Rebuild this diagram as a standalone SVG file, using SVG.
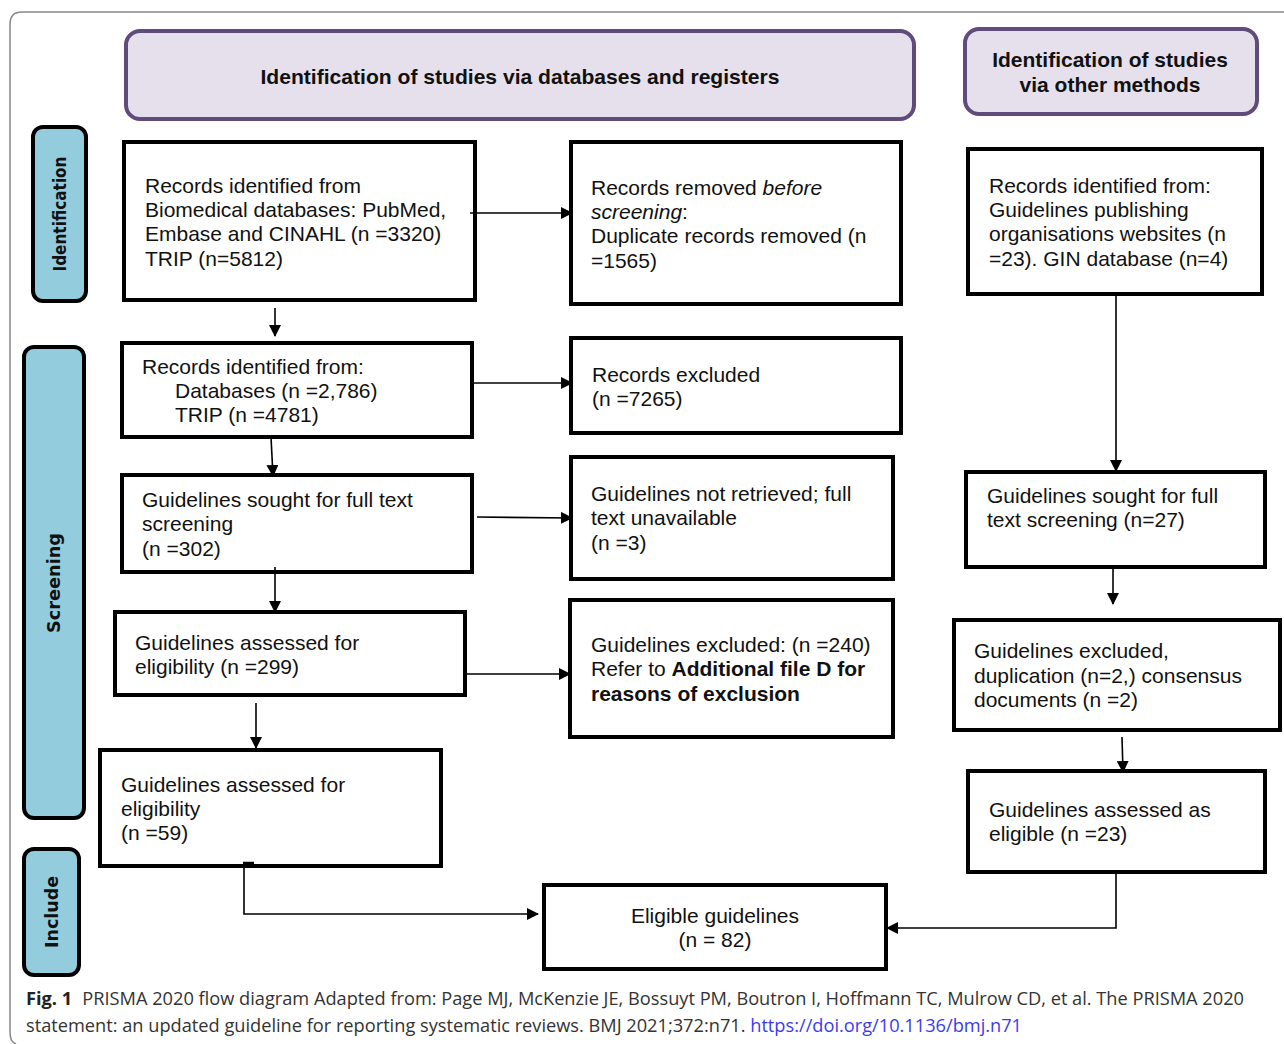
<svg xmlns="http://www.w3.org/2000/svg" width="1284" height="1044" viewBox="0 0 1284 1044">
<defs>
<marker id="ah" markerWidth="12" markerHeight="12" refX="11" refY="6" orient="auto" markerUnits="userSpaceOnUse">
<path d="M0,0 L12,6 L0,12 Z" fill="#000"/>
</marker>
<style>
.box{fill:#fff;stroke:#000;stroke-width:4}
.hdr{fill:#e5e0ec;stroke:#5f4b7c;stroke-width:4}
.side{fill:#93cddd;stroke:#000;stroke-width:4}
.t{font-family:"Liberation Sans",Arial,sans-serif;font-size:21px;fill:#111}
.hb{font-family:"Liberation Sans",Arial,sans-serif;font-size:21px;font-weight:bold;fill:#111}
.sb{font-family:"DejaVu Sans",Verdana,sans-serif;font-size:17px;font-weight:bold;fill:#111}
.c{fill:none;stroke:#000;stroke-width:1.6}
.cap{font-family:"Open Sans","Noto Sans",sans-serif;font-size:18px;fill:#333}
</style>
</defs>
<path d="M1284,12 L22,12 Q10,12 10,24 L10,1032 Q10,1042 16,1044" fill="none" stroke="#888" stroke-width="1.5"/>

<g id="hdr-db"><rect class="hdr" x="126" y="31" width="788" height="88" rx="14"/>
<text class="hb" x="520" y="84" text-anchor="middle" textLength="519" lengthAdjust="spacingAndGlyphs">Identification of studies via databases and registers</text></g>
<g id="hdr-other"><rect class="hdr" x="965" y="29" width="292" height="85" rx="14"/>
<text class="hb" x="1110" y="67" text-anchor="middle">Identification of studies</text>
<text class="hb" x="1110" y="92" text-anchor="middle">via other methods</text></g>

<g id="side-identification"><rect class="side" x="33" y="127" width="53" height="174" rx="10"/>
<text class="sb" transform="translate(66,214) rotate(-90)" text-anchor="middle" textLength="115" lengthAdjust="spacingAndGlyphs">Identification</text></g>
<g id="side-screening"><rect class="side" x="24" y="347" width="60" height="471" rx="10"/>
<text class="sb" transform="translate(60,583) rotate(-90)" text-anchor="middle" textLength="100" lengthAdjust="spacingAndGlyphs">Screening</text></g>
<g id="side-include"><rect class="side" x="24" y="849" width="55" height="126" rx="10"/>
<text class="sb" transform="translate(58,912) rotate(-90)" text-anchor="middle" textLength="72" lengthAdjust="spacingAndGlyphs">Include</text></g>

<g id="n-records-db"><rect class="box" x="124" y="142" width="351" height="158"/>
<text class="t" x="145" y="193">Records identified from</text>
<text class="t" x="145" y="217">Biomedical databases: PubMed,</text>
<text class="t" x="145" y="241">Embase and CINAHL (n =3320)</text>
<text class="t" x="145" y="266">TRIP (n=5812)</text></g>

<g id="n-removed"><rect class="box" x="571" y="142" width="330" height="162"/>
<text class="t" x="591" y="195">Records removed <tspan font-style="italic">before</tspan></text>
<text class="t" x="591" y="219"><tspan font-style="italic">screening</tspan>:</text>
<text class="t" x="591" y="243">Duplicate records removed (n</text>
<text class="t" x="591" y="268">=1565)</text></g>

<g id="n-records-other"><rect class="box" x="968" y="149" width="294" height="145"/>
<text class="t" x="989" y="193">Records identified from:</text>
<text class="t" x="989" y="217">Guidelines publishing</text>
<text class="t" x="989" y="241">organisations websites (n</text>
<text class="t" x="989" y="266">=23). GIN database (n=4)</text></g>

<g id="n-screened"><rect class="box" x="122" y="343" width="350" height="94"/>
<text class="t" x="142" y="374">Records identified from:</text>
<text class="t" x="175" y="398">Databases (n =2,786)</text>
<text class="t" x="175" y="422">TRIP (n =4781)</text></g>

<g id="n-excluded"><rect class="box" x="571" y="338" width="330" height="95"/>
<text class="t" x="592" y="382">Records excluded</text>
<text class="t" x="592" y="406">(n =7265)</text></g>

<g id="n-sought"><rect class="box" x="122" y="475" width="350" height="97"/>
<text class="t" x="142" y="507">Guidelines sought for full text</text>
<text class="t" x="142" y="531">screening</text>
<text class="t" x="142" y="556">(n =302)</text></g>

<g id="n-not-retrieved"><rect class="box" x="571" y="457" width="322" height="122"/>
<text class="t" x="591" y="501">Guidelines not retrieved; full</text>
<text class="t" x="591" y="525">text unavailable</text>
<text class="t" x="591" y="550">(n =3)</text></g>

<g id="n-assessed"><rect class="box" x="115" y="612" width="350" height="83"/>
<text class="t" x="135" y="650">Guidelines assessed for</text>
<text class="t" x="135" y="674">eligibility (n =299)</text></g>

<g id="n-excluded-240"><rect class="box" x="570" y="600" width="323" height="137"/>
<text class="t" x="591" y="652">Guidelines excluded: (n =240)</text>
<text class="t" x="591" y="676">Refer to <tspan font-weight="bold">Additional file D for</tspan></text>
<text class="t" x="591" y="701" font-weight="bold">reasons of exclusion</text></g>

<g id="n-assessed-59"><rect class="box" x="100" y="750" width="341" height="116"/>
<text class="t" x="121" y="792">Guidelines assessed for</text>
<text class="t" x="121" y="816">eligibility</text>
<text class="t" x="121" y="840">(n =59)</text></g>

<g id="n-sought-other"><rect class="box" x="966" y="472" width="299" height="95"/>
<text class="t" x="987" y="503">Guidelines sought for full</text>
<text class="t" x="987" y="527">text screening (n=27)</text></g>

<g id="n-excluded-other"><rect class="box" x="954" y="620" width="326" height="110"/>
<text class="t" x="974" y="658">Guidelines excluded,</text>
<text class="t" x="974" y="683">duplication (n=2,) consensus</text>
<text class="t" x="974" y="707">documents (n =2)</text></g>

<g id="n-eligible-other"><rect class="box" x="968" y="771" width="297" height="101"/>
<text class="t" x="989" y="817">Guidelines assessed as</text>
<text class="t" x="989" y="841">eligible (n =23)</text></g>

<g id="n-eligible"><rect class="box" x="544" y="885" width="342" height="84"/>
<text class="t" x="715" y="923" text-anchor="middle">Eligible guidelines</text>
<text class="t" x="715" y="947" text-anchor="middle">(n = 82)</text></g>

<g id="connectors">
<line class="c" x1="470" y1="213" x2="572" y2="213" marker-end="url(#ah)"/>
<line class="c" x1="275" y1="308" x2="275" y2="336" marker-end="url(#ah)"/>
<line class="c" x1="472" y1="383" x2="572" y2="383" marker-end="url(#ah)"/>
<line class="c" x1="271" y1="437" x2="273" y2="476" marker-end="url(#ah)"/>
<line class="c" x1="477" y1="517" x2="572" y2="518" marker-end="url(#ah)"/>
<line class="c" x1="275" y1="567" x2="275" y2="612" marker-end="url(#ah)"/>
<line class="c" x1="465" y1="674" x2="570" y2="674" marker-end="url(#ah)"/>
<line class="c" x1="256" y1="703" x2="256" y2="748" marker-end="url(#ah)"/>
<polyline class="c" points="244,863 244,914 538,914" marker-end="url(#ah)"/>
<line x1="243" y1="863" x2="254" y2="863" stroke="#000" stroke-width="2.5"/>
<line class="c" x1="1116" y1="294" x2="1116" y2="471" marker-end="url(#ah)"/>
<line class="c" x1="1113" y1="567" x2="1113" y2="604" marker-end="url(#ah)"/>
<line class="c" x1="1122" y1="737" x2="1123" y2="772" marker-end="url(#ah)"/>
<polyline class="c" points="1116,872 1116,928 887,928" marker-end="url(#ah)"/>
</g>

<text class="cap" x="26" y="1005" textLength="1218" lengthAdjust="spacingAndGlyphs"><tspan font-weight="bold" fill="#222">Fig. 1</tspan><tspan dx="10">PRISMA 2020 flow diagram Adapted from: Page MJ, McKenzie JE, Bossuyt PM, Boutron I, Hoffmann TC, Mulrow CD, et al. The PRISMA 2020</tspan></text>
<text class="cap" x="26" y="1032" textLength="996" lengthAdjust="spacingAndGlyphs">statement: an updated guideline for reporting systematic reviews. BMJ 2021;372:n71. <tspan fill="#3b3bf0">https://doi.org/10.1136/bmj.n71</tspan></text>
</svg>
